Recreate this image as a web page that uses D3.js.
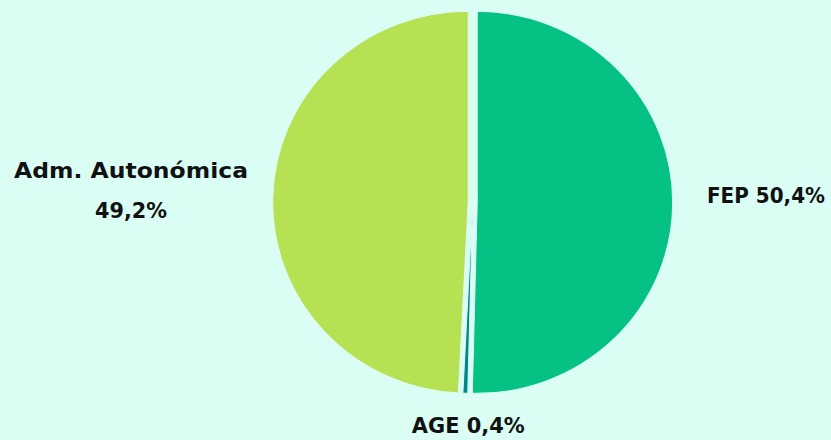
<!DOCTYPE html>
<html>
<head>
<meta charset="utf-8">
<script src="https://cdn.jsdelivr.net/npm/d3@7"></script>
<style>
  html, body { margin: 0; padding: 0; background: #dafef4; }
  svg { display: block; }
</style>
</head>
<body>
<svg id="chart" width="831" height="440"></svg>
<script>
const categories = ["FEP", "AGE", "Adm. Autonómica"];
const values = [50.4, 0.4, 49.2];
const labels = ["FEP 50,4%", "AGE 0,4%", ["Adm. Autonómica", "49,2%"]];
const colors = ["#05c183", "#00878b", "#b6e153"];
const explode = [4.5, 0, 4.5];

const W = 831, H = 440, BG = "#dafef4";
const svg = d3.select("#chart");
svg.append("rect").attr("width", W).attr("height", H).attr("fill", BG);

const cx = 472.7, cy = 202.3, r = 191, sx = 1.0236;

const pie = d3.pie().sort(null).value(d => d)(values);
const arc = d3.arc().innerRadius(0).outerRadius(r);

const g = svg.append("g").attr("transform", `translate(${cx},${cy}) scale(${sx},1)`);
g.selectAll("path").data(pie).join("path")
  .attr("d", arc)
  .attr("fill", (d, i) => colors[i])
  .attr("stroke", BG)
  .attr("stroke-width", 1)
  .attr("transform", (d, i) => {
    const a = (d.startAngle + d.endAngle) / 2;
    const o = explode[i];
    return `translate(${(o * Math.sin(a)) / sx},${-o * Math.cos(a)})`;
  });

const font = "'DejaVu Sans', sans-serif";
const labelPos = [
  { x: 766, y: 203.3, w: [118] },
  { x: 468.3, y: 433.3, w: [113] },
  { x: 131, y: 177.7, dy: 40, w: [234, 72] }
];
labels.forEach((lab, i) => {
  const p = labelPos[i];
  const lines = Array.isArray(lab) ? lab : [lab];
  const t = svg.append("text")
    .attr("text-anchor", "middle")
    .attr("font-family", font)
    .attr("font-weight", "bold")
    .attr("font-size", 21)
    .attr("fill", "#111");
  lines.forEach((ln, k) => {
    t.append("tspan")
      .attr("x", p.x)
      .attr("y", p.y + k * (p.dy || 0))
      .attr("textLength", p.w[k])
      .attr("lengthAdjust", "spacingAndGlyphs")
      .text(ln);
  });
});
</script>
</body>
</html>
